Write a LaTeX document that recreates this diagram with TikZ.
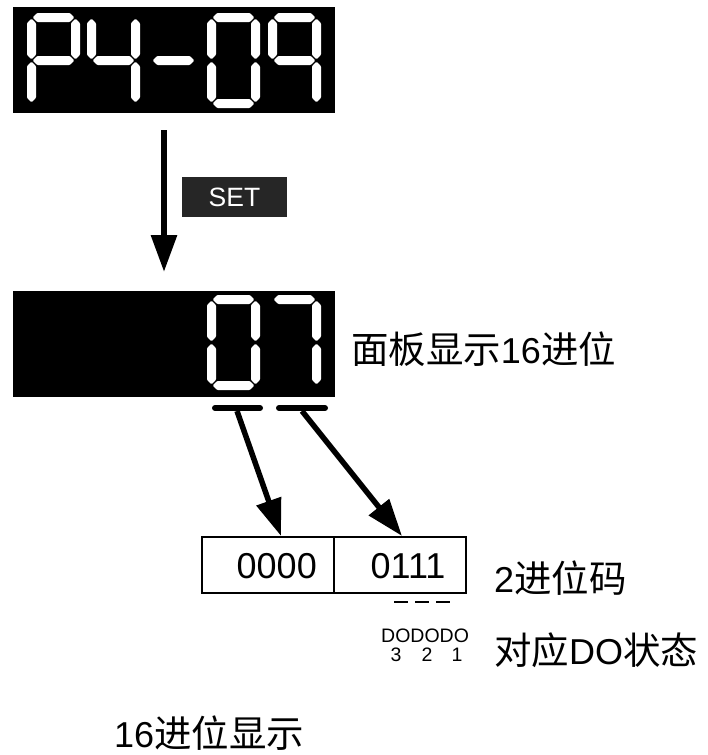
\documentclass[tikz,border=0pt]{standalone}
\usepackage{fontspec}
\setmainfont{Liberation Sans}
\newfontfamily\cjk[Scale=1.04]{Noto Sans CJK SC}
\usetikzlibrary{arrows.meta}
\definecolor{setgray}{HTML}{262626}
\def\sgap{1.2}
\newcommand\hseg[3]{%
 \fill[white, rounded corners=0.8pt] ({#1+\sgap},#3) -- ({#1+\sgap+4.5},{#3-4.5}) -- ({#2-\sgap-4.5},{#3-4.5}) -- ({#2-\sgap},#3) -- ({#2-\sgap-4.5},{#3+4.5}) -- ({#1+\sgap+4.5},{#3+4.5}) -- cycle;}
\newcommand\vseg[3]{%
 \fill[white, rounded corners=0.8pt] (#1,{#2+\sgap}) -- ({#1+4.5},{#2+\sgap+4.5}) -- ({#1+4.5},{#3-\sgap-4.5}) -- (#1,{#3-\sgap}) -- ({#1-4.5},{#3-\sgap-4.5}) -- ({#1-4.5},{#2+\sgap+4.5}) -- cycle;}
\def\sega{\hseg{\xl}{\xr}{\yt}}
\def\segb{\vseg{\xr}{\yt}{\ym}}
\def\segc{\vseg{\xr}{\ym}{\yb}}
\def\segd{\hseg{\xl}{\xr}{\yb}}
\def\sege{\vseg{\xl}{\ym}{\yb}}
\def\segf{\vseg{\xl}{\yt}{\ym}}
\def\segg{\hseg{\xl}{\xr}{\ym}}
\newcommand\digitseg[3]{%
 \pgfmathsetmacro\xl{#1+4.5}\pgfmathsetmacro\xr{#1+48.5}%
 \pgfmathsetmacro\yt{#2+4.5}\pgfmathsetmacro\ym{#2+47.5}\pgfmathsetmacro\yb{#2+90.5}%
 \foreach \s in {#3}{\csname seg\s\endcsname}}
\begin{document}
\begin{tikzpicture}[x=1pt,y=-1pt,
  big/.style={inner sep=0pt, font=\fontsize{36}{40}\selectfont},
  small/.style={inner sep=0pt, font=\fontsize{19.5}{22}\selectfont},
  bar/.style={line width=6pt, line cap=round},
  thickarrow/.style={line width=5.5pt, -{Triangle[length=37pt,width=25pt]}},
  dashbar/.style={line width=1.3pt}]
\useasboundingbox (0,0) rectangle (707,755);
% top display
\fill[black] (12.5,7) rectangle (335,113);
\digitseg{27}{13}{a,b,f,g,e}
\digitseg{87}{13}{f,b,g,c}
\digitseg{147}{13}{g}
\digitseg{207}{13}{a,b,c,d,e,f}
\digitseg{268}{13}{a,b,c,f,g}
% SET arrow
\coordinate (a0) at (164,130);
\coordinate (a1) at (164,272);
\draw[line width=6pt, -{Triangle[length=37pt,width=25pt]}] (a0) -- (a1);
\node[fill=setgray, text=white, minimum width=105pt, minimum height=40pt, inner sep=0pt,
  font=\fontsize{26.5}{29}\selectfont] (set) at (234.5,197) {SET};
% second display
\fill[black] (13,291) rectangle (335,397);
\digitseg{207}{295}{a,b,c,d,e,f}
\digitseg{268}{295}{a,b,c}
\node[big, anchor=base west] (hexlabel) at (351,363) {{\cjk 面板显示}16{\cjk 进位}};
% bars
\coordinate (b1l) at (215,408); \coordinate (b1r) at (260,408);
\coordinate (b2l) at (279,408); \coordinate (b2r) at (325,408);
\draw[bar] (b1l) -- (b1r);
\draw[bar] (b2l) -- (b2r);
% box
\node[draw, line width=1.5pt, minimum width=132pt, minimum height=56pt, inner sep=0pt] (cell0) at (268,565) {};
\node[draw, line width=1.5pt, minimum width=132pt, minimum height=56pt, inner sep=0pt] (cell1) at (400,565) {};
\node[big, anchor=base west] (v0) at (236.5,578) {0000};
\node[big, anchor=base west] (v1) at (370.5,578) {0111};
% arrows
\coordinate (s1) at (237,411); \coordinate (e1) at (281,536);
\coordinate (s2) at (302,411); \coordinate (e2) at (402,536);
\draw[thickarrow] (s1) -- (e1);
\draw[thickarrow] (s2) -- (e2);
% labels
\node[big, anchor=base west] (binlabel) at (494,592) {2{\cjk 进位码}};
\coordinate (d1l) at (394,602); \coordinate (d1r) at (408,602);
\coordinate (d2l) at (415,602); \coordinate (d2r) at (429,602);
\coordinate (d3l) at (436,602); \coordinate (d3r) at (450,602);
\draw[dashbar] (d1l) -- (d1r);
\draw[dashbar] (d2l) -- (d2r);
\draw[dashbar] (d3l) -- (d3r);
\node[small, anchor=base west] (do) at (381,642) {DODODO};
\node[small, anchor=base] (n3) at (396,661) {3};
\node[small, anchor=base] (n2) at (427,661) {2};
\node[small, anchor=base] (n1) at (457,661) {1};
\node[big, anchor=base west] (dolabel) at (494,664) {{\cjk 对应}DO{\cjk 状态}};
\node[big, anchor=base west] (caption) at (114,747) {16{\cjk 进位显示}};
\end{tikzpicture}
\end{document}
